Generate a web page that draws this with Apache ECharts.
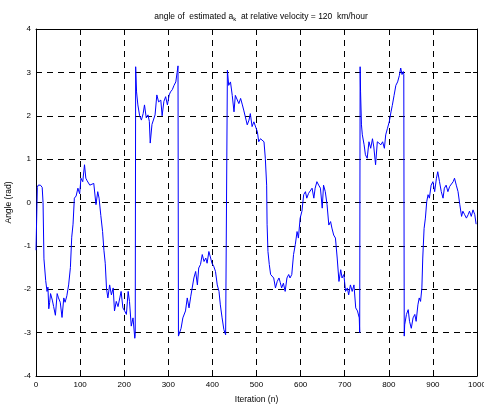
<!DOCTYPE html>
<html>
<head>
<meta charset="utf-8">
<script src="https://cdn.jsdelivr.net/npm/echarts@6/dist/echarts.min.js"></script>
<style>
  html, body { margin: 0; padding: 0; background: #fff; }
  #myChart { width: 484px; height: 405px; }
</style>
</head>
<body>
<div id="myChart"></div>
<script>
// iteration index and estimated angle (rad)
var iterations = [
  0, 3, 5, 10, 14, 16, 18, 22, 25, 27, 29, 31, 33, 37, 40, 44, 48, 51, 55, 59,
  63, 66, 70, 74, 78, 81, 84, 87, 91, 95, 99, 102, 106, 110, 113, 116, 119, 122, 126, 131,
  136, 140, 143, 147, 151, 154, 157, 160, 163, 167, 171, 175, 178, 182, 186, 190, 193, 197, 201, 205,
  209, 212, 216, 220, 224, 225, 226, 228, 231, 235, 239, 243, 246, 250, 254, 257, 259, 263, 266, 270,
  274, 278, 283, 286, 290, 294, 298, 302, 305, 309, 313, 317, 320, 322, 323, 326, 329, 333, 335, 339,
  343, 347, 351, 354, 358, 362, 366, 369, 373, 377, 381, 385, 388, 392, 396, 399, 403, 407, 411, 415,
  418, 422, 426, 430, 433, 434, 437, 441, 445, 449, 452, 456, 460, 464, 468, 471, 475, 479, 483, 486,
  490, 494, 498, 502, 505, 509, 513, 517, 520, 523, 524, 526, 529, 532, 535, 539, 543, 547, 551, 554,
  557, 561, 565, 569, 573, 576, 580, 584, 588, 592, 595, 599, 603, 607, 611, 614, 618, 622, 626, 630,
  633, 637, 641, 645, 649, 652, 656, 660, 664, 668, 671, 675, 679, 683, 687, 691, 694, 698, 702, 706,
  709, 713, 717, 721, 725, 729, 733, 734, 735, 736, 738, 740, 744, 747, 751, 755, 759, 763, 766, 770,
  774, 778, 782, 786, 790, 793, 797, 801, 805, 808, 812, 816, 820, 824, 827, 830, 833, 834, 835, 836,
  840, 844, 847, 851, 855, 859, 862, 866, 869, 872, 875, 877, 880, 883, 886, 889, 892, 896, 900, 904,
  908, 911, 915, 919, 923, 926, 930, 934, 938, 942, 946, 949, 953, 957, 961, 965, 968, 972, 976, 980,
  983, 987, 991, 995, 998
];
var angles = [
  -1.1, 0.35, 0.4, 0.4, 0.35, 0.0, -1.3, -1.8, -2.05, -1.95, -2.45, -2.3, -2.1, -2.25, -2.4, -2.6, -2.1, -2.2, -2.3, -2.65,
  -2.2, -2.3, -2.15, -1.9, -1.5, -0.8, -0.5, 0.1, 0.15, 0.33, 0.2, 0.56, 0.48, 0.87, 0.56, 0.5, 0.48, 0.4, 0.44, 0.44,
  -0.05, 0.25, 0.1, -0.3, -0.67, -1.1, -1.4, -2.0, -2.2, -1.9, -2.13, -1.97, -2.5, -2.28, -2.4, -2.2, -2.05, -2.43, -2.5, -2.58,
  -2.05, -2.28, -2.85, -2.66, -3.13, -3.05, 3.13, 2.55, 2.25, 2.0, 1.9, 2.05, 2.25, 1.95, 2.02, 1.87, 1.37, 1.8, 1.83, 2.02,
  2.48, 2.32, 2.36, 2.0, 2.33, 2.44, 2.25, 2.48, 2.55, 2.6, 2.7, 2.78, 3.0, 3.15, -3.08, -3.05, -2.9, -2.66, -2.7, -2.5,
  -2.2, -2.43, -2.16, -2.12, -1.74, -1.59, -1.9, -1.51, -1.43, -1.2, -1.36, -1.28, -1.4, -1.13, -1.28, -1.4, -1.47, -1.59, -1.9, -2.05,
  -2.36, -2.66, -2.93, -3.05, -3.05, 3.05, 2.7, 2.78, 2.47, 2.09, 2.47, 2.44, 2.28, 2.4, 2.25, 2.13, 2.17, 1.79, 1.9, 2.05,
  1.75, 1.86, 1.9, 1.63, 1.4, 1.47, 1.44, 1.4, 1.02, 0.4, -0.5, -1.13, -1.43, -1.66, -1.62, -1.74, -1.97, -1.82, -1.74, -1.85,
  -1.97, -1.86, -2.05, -1.74, -1.66, -1.74, -1.66, -1.2, -0.97, -0.67, -0.82, -0.36, -0.2, 0.18, 0.25, 0.1, 0.21, 0.18, 0.33, 0.1,
  0.33, 0.48, 0.4, 0.33, -0.13, 0.4, 0.25, -0.05, -0.52, -0.44, -0.59, -0.75, -0.82, -1.28, -1.82, -1.55, -1.74, -1.66, -2.05, -1.97,
  -2.13, -1.9, -2.05, -1.9, -2.43, -2.5, -2.66, -3.0, 3.13, 2.55, 1.79, 1.56, 1.33, 1.1, 1.02, 1.4, 1.25, 1.47, 1.28, 0.87,
  1.4, 1.44, 1.33, 1.4, 1.25, 1.56, 1.71, 1.86, 2.09, 2.24, 2.47, 2.7, 2.78, 2.93, 3.1, 2.95, 3.02, 2.95, -3.08, -2.82,
  -2.58, -2.47, -2.74, -2.9, -2.66, -2.58, -2.74, -2.36, -2.2, -2.28, -1.97, -1.28, -0.6, -0.36, 0.02, 0.18, 0.1, 0.4, 0.48, 0.25,
  0.56, 0.71, 0.48, 0.25, 0.1, 0.33, 0.4, 0.25, 0.37, 0.33, 0.48, 0.56, 0.4, 0.25, -0.05, -0.32, -0.2, -0.28, -0.36, -0.28,
  -0.2, -0.32, -0.17, -0.28, -0.5
];

var font = 'Arial, "Liberation Sans", sans-serif';
var points = iterations.map(function (n, i) { return [n, angles[i]]; });

var myChart = echarts.init(document.getElementById('myChart'));

// top / right axes only close the box and carry inward ticks
var boxAxis = {
    axisLine: {show: true, onZero: false, lineStyle: {color: '#000', width: 1}},
    axisTick: {show: true, inside: true, length: 4, lineStyle: {color: '#000'}},
    axisLabel: {show: false},
    splitLine: {show: false}
};

myChart.setOption({
    backgroundColor: '#fff',
    animation: false,
    title: {
        text: 'angle of  estimated a{sub|k}  at relative velocity = 120  km/hour',
        left: 256,
        textAlign: 'center',
        top: 6,
        textStyle: {
            fontFamily: font, fontSize: 8.5, fontWeight: 'normal', color: '#000',
            lineHeight: 12,
            rich: {
                sub: {fontFamily: font, fontSize: 6, color: '#000', lineHeight: 12, padding: [5, 0, 0, 0]}
            }
        }
    },
    grid: {left: 36, right: 7, top: 29, bottom: 29, outerBoundsMode: 'none', containLabel: false},
    xAxis: [{
        type: 'value', min: 0, max: 1000, interval: 100,
        name: 'Iteration (n)', nameLocation: 'middle', nameGap: 19,
        nameTextStyle: {fontFamily: font, fontSize: 8.5, color: '#000'},
        axisLine: {show: true, onZero: false, lineStyle: {color: '#000', width: 1}},
        axisTick: {show: true, inside: true, length: 4, lineStyle: {color: '#000'}},
        axisLabel: {fontFamily: font, fontSize: 8, color: '#000', margin: 5,
            formatter: function (v) { return String(v); }},
        splitLine: {show: true, lineStyle: {color: '#000', type: [6, 5], width: 1}}
    }, Object.assign({type: 'value', min: 0, max: 1000, interval: 100, position: 'top'}, boxAxis)],
    yAxis: [{
        type: 'value', min: -4, max: 4, interval: 1,
        name: 'Angle (rad)', nameLocation: 'middle', nameGap: 20, nameRotate: 90,
        nameTextStyle: {fontFamily: font, fontSize: 8.5, color: '#000'},
        axisLine: {show: true, onZero: false, lineStyle: {color: '#000', width: 1}},
        axisTick: {show: true, inside: true, length: 4, lineStyle: {color: '#000'}},
        axisLabel: {fontFamily: font, fontSize: 8, color: '#000', margin: 5},
        splitLine: {show: true, lineStyle: {color: '#000', type: [6, 5], width: 1}}
    }, Object.assign({type: 'value', min: -4, max: 4, interval: 1, position: 'right'}, boxAxis)],
    series: [{
        type: 'line',
        data: points,
        showSymbol: false,
        symbol: 'none',
        lineStyle: {color: '#0000ff', width: 1},
        silent: true
    }]
});
</script>
</body>
</html>
